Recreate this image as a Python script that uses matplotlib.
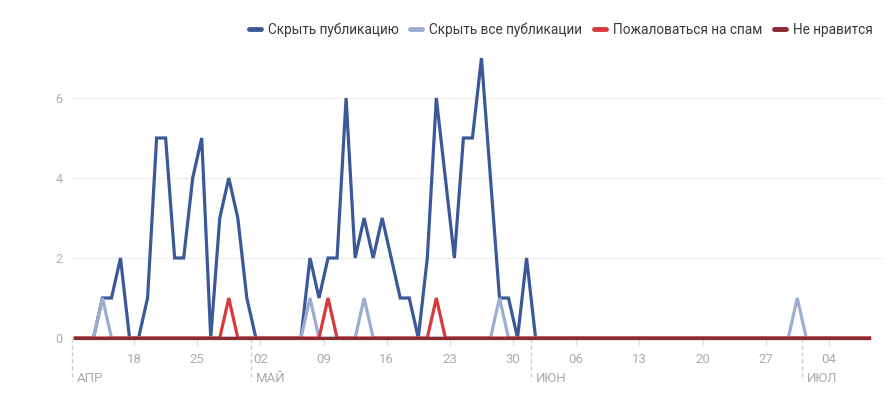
import numpy as np
import matplotlib
matplotlib.use("Agg")
import matplotlib.pyplot as plt
import matplotlib.dates as mdates
from datetime import datetime, timedelta

plt.rcParams['font.family'] = ['Roboto', 'DejaVu Sans']

start_date = datetime(2018, 4, 11)
n_days = 89

series_names = ["Скрыть публикацию", "Скрыть все публикации", "Пожаловаться на спам", "Не нравится"]
series_colors = ["#3b5998", "#9dadd0", "#d9393b", "#8b2b2d"]

hide_post = [0, 0, 0, 1, 1, 2, 0, 0, 1, 5, 5, 2, 2, 4, 5, 0, 3, 4, 3, 1,
             0, 0, 0, 0, 0, 0, 2, 1, 2, 2, 6, 2, 3, 2, 3, 2, 1, 1, 0, 2,
             6, 4, 2, 5, 5, 7, 4, 1, 1, 0, 2, 0] + [0] * 37
hide_all = [0] * n_days
for i in (3, 26, 32, 47, 80):
    hide_all[i] = 1
spam = [0] * n_days
for i in (17, 28, 40):
    spam[i] = 1
dislike = [0] * n_days

yticks = [0, 2, 4, 6]
day_ticks = ["2018-04-18", "2018-04-25", "2018-05-02", "2018-05-09", "2018-05-16",
             "2018-05-23", "2018-05-30", "2018-06-06", "2018-06-13", "2018-06-20",
             "2018-06-27", "2018-07-04"]
month_labels = ["АПР", "МАЙ", "ИЮН", "ИЮЛ"]
month_starts = ["2018-04-11 03:00", "2018-05-01", "2018-06-01", "2018-07-01"]

dates = [start_date + timedelta(days=i, hours=12) for i in range(n_days)]
xd = mdates.date2num(dates)

fig = plt.figure(figsize=(8.95, 3.93), dpi=100)
ax = fig.add_axes([72 / 895, 55 / 393, 811 / 895, 280 / 393])

all_series = [hide_post, hide_all, spam, dislike]
handles = []
for name, col, vals in zip(series_names, series_colors, all_series):
    h, = ax.plot(xd, vals, color=col, lw=2.3, label=name, clip_on=False,
                 solid_joinstyle='miter', zorder=3)
    handles.append(h)

xmin = mdates.date2num(datetime(2018, 4, 11, 3))
xmax = mdates.date2num(datetime(2018, 7, 10))
ax.set_xlim(xmin, xmax)
ax.set_ylim(0, 7)

for s in ax.spines.values():
    s.set_visible(False)

ax.set_yticks(yticks)
ax.set_yticklabels([str(v) for v in yticks])
ax.yaxis.grid(True, color="#f0f0f0", lw=1)
ax.set_axisbelow(True)
ax.tick_params(axis='y', length=0, pad=7, labelsize=9, labelcolor="#a9abb0")

tick_nums = [mdates.date2num(datetime.strptime(d, "%Y-%m-%d")) for d in day_ticks]
ax.set_xticks(tick_nums)
ax.set_xticklabels([d[-2:] for d in day_ticks])
ax.tick_params(axis='x', length=5, width=1, color="#dddddd", pad=6,
               labelsize=9.5, labelcolor="#a9abb0")

ax.axhline(0, color="#dddddd", lw=1, zorder=1)

for lab, ms in zip(month_labels, month_starts):
    xm = mdates.date2num(datetime.fromisoformat(ms))
    ax.plot([xm, xm], [0, -1.05], color="#cccccc", lw=1, ls=(0, (3, 2)),
            clip_on=False, zorder=1)
    ax.text(xm + 0.55, -1.0, lab, ha='left', va='center', fontsize=9.5,
            color="#a9abb0")

leg = fig.legend(handles=handles, loc='upper right', bbox_to_anchor=(878 / 895, 1 - 17 / 393),
                 ncol=4, frameon=False, fontsize=9.8, handlelength=0.9,
                 handletextpad=0.5, columnspacing=0.85, borderaxespad=0)
for t in leg.get_texts():
    t.set_color("#3a3a3a")
for lh in leg.get_lines():
    lh.set_linewidth(3.5)
    lh.set_solid_capstyle('round')

fig.savefig("out.png", dpi=100)
